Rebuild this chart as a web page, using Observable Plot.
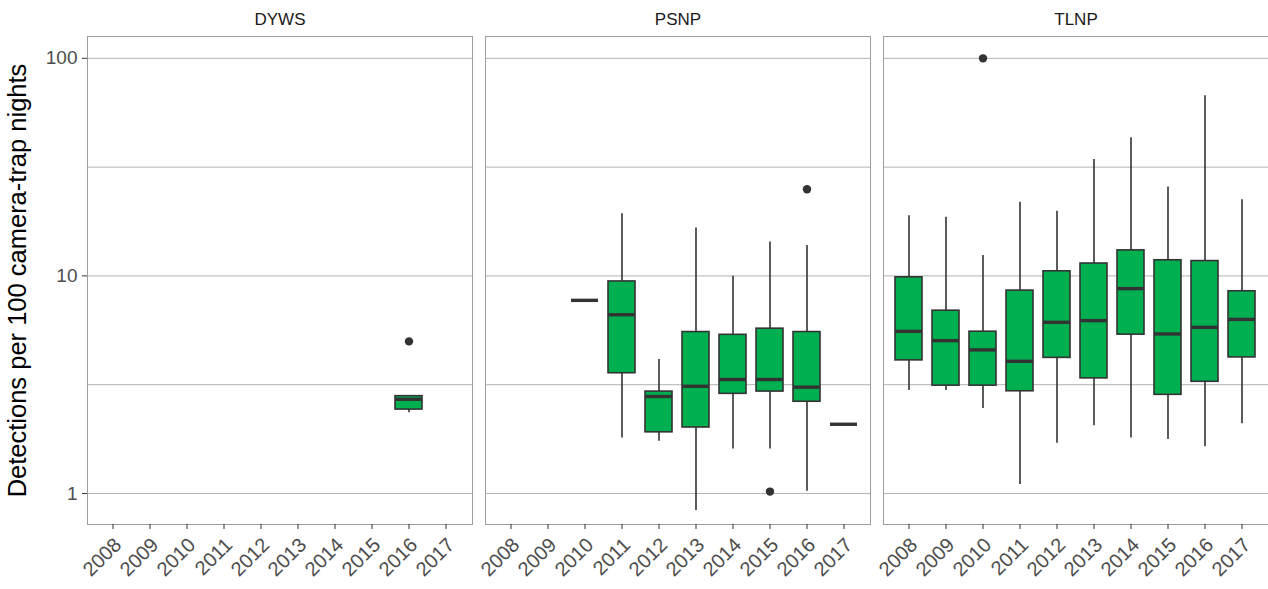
<!DOCTYPE html>
<html>
<head>
<meta charset="utf-8">
<script src="https://cdn.jsdelivr.net/npm/d3@7"></script>
<script src="https://cdn.jsdelivr.net/npm/@observablehq/plot@0.6"></script>
<style>
  html, body { margin: 0; padding: 0; background: #fff; }
</style>
</head>
<body>
<div id="chart"></div>
<script>
// Sites (facets) and survey years
const sites = ["DYWS", "PSNP", "TLNP"];
const years = ["2008", "2009", "2010", "2011", "2012", "2013", "2014", "2015", "2016", "2017"];

// Box summaries: one entry per site-year
const boxSite = ["DYWS",
  "PSNP", "PSNP", "PSNP", "PSNP", "PSNP", "PSNP", "PSNP", "PSNP",
  "TLNP", "TLNP", "TLNP", "TLNP", "TLNP", "TLNP", "TLNP", "TLNP", "TLNP", "TLNP"];
const boxYear = ["2016",
  "2010", "2011", "2012", "2013", "2014", "2015", "2016", "2017",
  "2008", "2009", "2010", "2011", "2012", "2013", "2014", "2015", "2016", "2017"];
const whiskerLow = [2.35,
  7.72, 1.80, 1.74, 0.835, 1.60, 1.60, 1.025, 2.08,
  2.97, 2.97, 2.46, 1.10, 1.70, 2.05, 1.80, 1.77, 1.64, 2.09];
const lowerQuartile = [2.43,
  7.72, 3.57, 1.91, 2.01, 2.87, 2.94, 2.64, 2.08,
  4.09, 3.13, 3.13, 2.95, 4.20, 3.38, 5.37, 2.84, 3.26, 4.22];
const medianValue = [2.71,
  7.72, 6.63, 2.79, 3.11, 3.34, 3.34, 3.08, 2.08,
  5.56, 5.04, 4.57, 4.05, 6.12, 6.23, 8.74, 5.41, 5.80, 6.31];
const upperQuartile = [2.80,
  7.72, 9.43, 2.94, 5.52, 5.36, 5.72, 5.52, 2.08,
  9.85, 6.92, 5.54, 8.56, 10.5, 11.4, 13.1, 11.8, 11.7, 8.50];
const whiskerHigh = [2.80,
  7.72, 19.3, 4.13, 16.6, 9.95, 14.3, 13.8, 2.08,
  18.9, 18.6, 12.4, 21.8, 19.8, 34.3, 43.1, 25.6, 67.3, 22.4];

// Outlying observations
const outlierSite = ["DYWS", "PSNP", "PSNP", "TLNP"];
const outlierYear = ["2016", "2015", "2016", "2010"];
const outlierValue = [5.0, 1.02, 25.0, 100];

// Log-axis breaks
const majorBreaks = [1, 10, 100];
const minorBreaks = [3.162, 31.62];

const boxes = boxSite.map((site, i) => ({
  site, year: boxYear[i],
  lo: whiskerLow[i], q1: lowerQuartile[i], med: medianValue[i],
  q3: upperQuartile[i], hi: whiskerHigh[i]
}));
const outliers = outlierSite.map((site, i) => ({
  site, year: outlierYear[i], value: outlierValue[i]
}));

const ink = "#333333";
const boxFill = "#00B050";
const gridColor = "#b3b3b3";

const chart = Plot.plot({
  width: 1268,
  height: 589,
  marginTop: 36,
  marginBottom: 65,
  marginLeft: 86,
  marginRight: 0,
  style: {fontFamily: "'Liberation Sans', Arial, sans-serif", background: "#fff"},
  fx: {domain: sites, paddingInner: 0.033, paddingOuter: 0},
  x: {domain: years, paddingInner: 0.26, paddingOuter: 0.23},
  y: {type: "log", domain: [0.72, 126]},
  marks: [
    Plot.ruleY(minorBreaks, {stroke: gridColor, strokeWidth: 1}),
    Plot.ruleY(majorBreaks, {stroke: gridColor, strokeWidth: 1}),
    Plot.ruleX(boxes, {fx: "site", x: "year", y1: "lo", y2: "hi", stroke: ink, strokeWidth: 1.6}),
    Plot.barY(boxes, {fx: "site", x: "year", y1: "q1", y2: "q3", fill: boxFill, stroke: ink, strokeWidth: 1.6}),
    Plot.tickY(boxes, {fx: "site", x: "year", y: "med", stroke: ink, strokeWidth: 3.4}),
    Plot.dot(outliers, {fx: "site", x: "year", y: "value", r: 4.2, fill: ink, stroke: "none"}),
    Plot.frame({stroke: "#9e9e9e", strokeWidth: 1}),
    // facet strip labels
    Plot.axisFx({anchor: "top", label: null, tickSize: 0, tickPadding: 12, fontSize: 17, fill: "#1a1a1a"}),
    // x tick marks, then the rotated year labels hanging from them
    Plot.axisX({anchor: "bottom", label: null, tickSize: 5, tickFormat: () => "", stroke: ink}),
    Plot.axisX({anchor: "bottom", label: null, tickRotate: -45, tickSize: 0, tickPadding: 17, dx: 5,
      fontSize: 20, fill: "#4d4d4d"}),
    Plot.axisY({anchor: "left", ticks: majorBreaks, tickFormat: d => String(d), label: null,
      tickSize: 5, tickPadding: 5, fontSize: 19, fill: "#4d4d4d", stroke: ink}),
    Plot.axisY({anchor: "left", ticks: [], label: "Detections per 100 camera-trap nights",
      labelAnchor: "center", labelArrow: false, labelOffset: 80, dy: 7, fontSize: 25.5, fill: "#000"})
  ]
});

document.getElementById("chart").appendChild(chart);
</script>
</body>
</html>
